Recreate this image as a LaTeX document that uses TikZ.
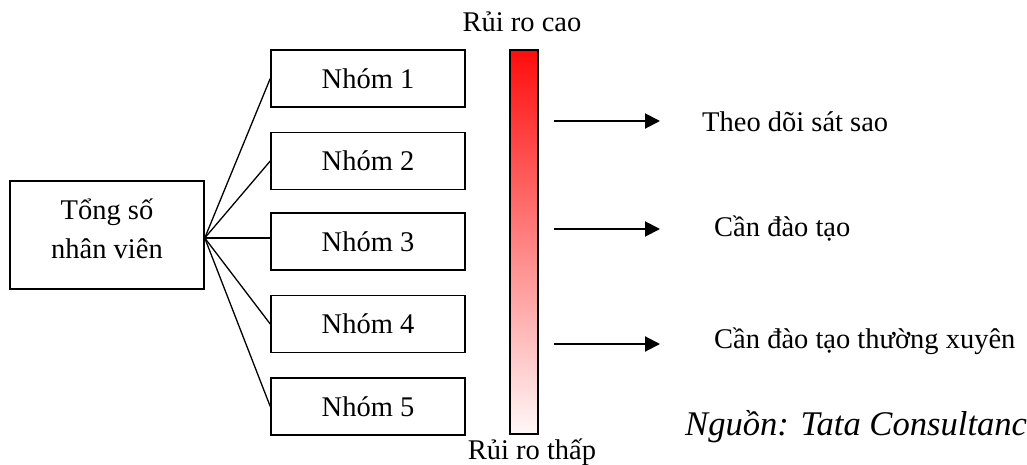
\documentclass[tikz,border=0pt]{standalone}
\usepackage{fontspec}
\setmainfont{Liberation Serif}
\usetikzlibrary{arrows.meta}
\begin{document}
\begin{tikzpicture}[x=1pt,y=-1pt,
  every node/.style={font=\fontsize{28.5}{39}\selectfont},
  boxnode/.style={draw=black, line width=1.5pt, fill=white, minimum width=194pt, inner sep=0pt},
  grp/.style={boxnode, minimum height=57pt},
  link/.style={line width=1.3pt},
  riskarrow/.style={line width=2pt, -{Triangle[length=15pt,width=15pt]}},
  lbl/.style={anchor=base west, inner sep=0pt},
]
\useasboundingbox (0,0) rectangle (1027,465);

% total employees box
\node[boxnode, minimum height=108pt] (tong) at (107,235) {};
\node[anchor=base, inner sep=0pt] (tong1) at (107,219) {Tổng số};
\node[anchor=base, inner sep=0pt] (tong2) at (107,258) {nhân viên};
\coordinate (hub) at ([yshift=-3pt]tong.east);

% group boxes
\node[grp] (g1) at (368,78.5) {Nhóm 1};
\node[grp] (g2) at (368,161) {Nhóm 2};
\node[grp] (g3) at (368,241.5) {Nhóm 3};
\node[grp] (g4) at (368,324) {Nhóm 4};
\node[grp] (g5) at (368,406.5) {Nhóm 5};

\foreach \g in {g1,g2,g4,g5}
  \draw[link] (hub) -- (\g.west);
\draw[link] (hub) -- (hub -| g3.west);

% risk bar
\node[draw=black, line width=1.5pt, minimum width=28pt, minimum height=384pt, inner sep=0pt,
      top color=red!95!white, bottom color=red!3!white] (bar) at (524,242) {};
\node[anchor=base, inner sep=0pt] (high) at (522,32) {Rủi ro cao};
\node[anchor=base, inner sep=0pt] (low) at (532,459) {Rủi ro thấp};

% arrows
\coordinate (a1s) at (554,121); \coordinate (a1e) at (660,121);
\coordinate (a2s) at (554,229); \coordinate (a2e) at (660,229);
\coordinate (a3s) at (554,344); \coordinate (a3e) at (660,344);
\draw[riskarrow] (a1s) -- (a1e);
\draw[riskarrow] (a2s) -- (a2e);
\draw[riskarrow] (a3s) -- (a3e);

\node[lbl] (t1) at (702,132) {Theo dõi sát sao};
\node[lbl] (t2) at (714,236) {Cần đào tạo};
\node[lbl] (t3) at (714,348) {Cần đào tạo thường xuyên};

\node[lbl, font=\fontsize{34.6}{40}\selectfont\itshape] (src) at (685,435) {Nguồn: Tata Consultanc};
\end{tikzpicture}
\end{document}
